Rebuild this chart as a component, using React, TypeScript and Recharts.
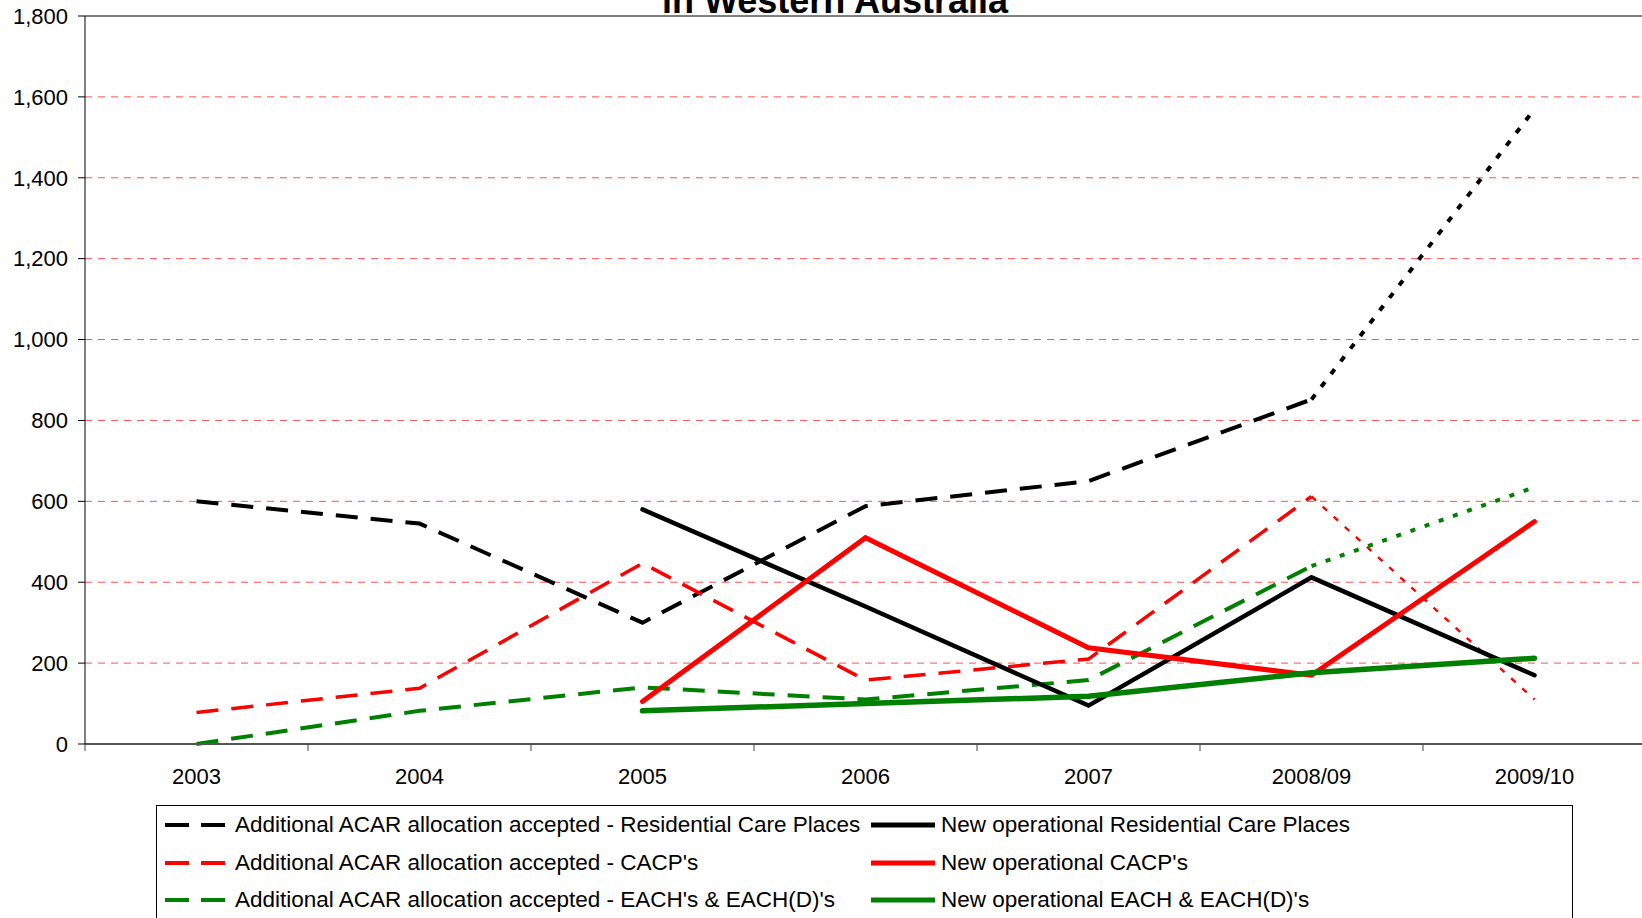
import { LineChart, Line, XAxis, YAxis, CartesianGrid, ReferenceLine } from 'recharts';

// =============================================================================
// Data
// =============================================================================

const categories = ['2003', '2004', '2005', '2006', '2007', '2008/09', '2009/10'];

const acarResidential = [600, 545, 300, 588, 650, 852, 1570];
const acarCacp = [78, 138, 447, 158, 210, 612, 110];
const acarEach = [0, 82, 140, 110, 158, 440, 635];

const newResidential = [null, null, 580, 340, 95, 412, 170];
const newCacp = [null, null, 105, 510, 238, 170, 550];
const newEach = [null, null, 82, 100, 118, 176, 212];

const yTicks = [0, 200, 400, 600, 800, 1000, 1200, 1400, 1600, 1800];

// last segment of the ACAR series is drawn dotted (projection)
const LAST = categories.length - 1;
const dashedPart = (arr: (number | null)[], i: number) => (i < LAST ? arr[i] : null);
const dottedPart = (arr: (number | null)[], i: number) => (i >= LAST - 1 ? arr[i] : null);

const data = categories.map((name, i) => ({
  x: i + 0.5,
  name,
  acarRes: dashedPart(acarResidential, i),
  acarResProj: dottedPart(acarResidential, i),
  acarCacp: dashedPart(acarCacp, i),
  acarCacpProj: dottedPart(acarCacp, i),
  acarEach: dashedPart(acarEach, i),
  acarEachProj: dottedPart(acarEach, i),
  newRes: newResidential[i],
  newCacp: newCacp[i],
  newEach: newEach[i],
}));

// =============================================================================
// Layout
// =============================================================================

const CHART_W = 1660;
const CHART_H = 918;
const MARGIN = { top: 16, right: 14, bottom: 0, left: 0 };
const Y_AXIS_W = 85;
const PLOT_W = CHART_W - MARGIN.left - MARGIN.right - Y_AXIS_W;
const HALF_BAND = PLOT_W / categories.length / 2;
const FONT = '"Liberation Sans", Arial, sans-serif';

const legendItems = [
  { label: 'Additional ACAR allocation accepted - Residential Care Places', color: '#000000', dashed: true, col: 0, row: 0 },
  { label: "Additional ACAR allocation accepted - CACP's", color: '#ff0000', dashed: true, col: 0, row: 1 },
  { label: "Additional ACAR allocation accepted - EACH's & EACH(D)'s", color: '#008000', dashed: true, col: 0, row: 2 },
  { label: 'New operational Residential Care Places', color: '#000000', dashed: false, col: 1, row: 0 },
  { label: "New operational CACP's", color: '#ff0000', dashed: false, col: 1, row: 1 },
  { label: "New operational EACH & EACH(D)'s", color: '#008000', dashed: false, col: 1, row: 2 },
];

// =============================================================================
// Custom X tick: label at band centre, tick mark at band boundary
// =============================================================================

function XTick({ x, y, payload }: { x: number; y: number; payload: { value: number } }) {
  const idx = Math.floor(payload.value);
  return (
    <g>
      <line x1={x - HALF_BAND} x2={x - HALF_BAND} y1={y} y2={y + 7} stroke="#444" strokeWidth={1} />
      <text x={x} y={y + 40} textAnchor="middle" fontSize={22} fill="#000" fontFamily={FONT}>
        {categories[idx]}
      </text>
    </g>
  );
}

// =============================================================================
// Legend
// =============================================================================

function ChartLegend() {
  return (
    <div
      style={{
        position: 'absolute',
        left: 156,
        top: 805,
        width: 1417,
        height: 140,
        border: '1px solid #000',
        background: '#fff',
        boxSizing: 'border-box',
      }}
    >
      {legendItems.map((item) => {
        const left = item.col === 0 ? 8 : 714;
        const top = 19 + item.row * 37.6;
        return (
          <div
            key={item.label}
            style={{ position: 'absolute', left, top: top - 14, height: 28, display: 'flex', alignItems: 'center' }}
          >
            <svg width={64} height={10} style={{ display: 'block' }}>
              <line
                x1={0}
                x2={item.dashed ? 60 : 64}
                y1={5}
                y2={5}
                stroke={item.color}
                strokeWidth={item.dashed ? 4 : 5}
                strokeDasharray={item.dashed ? '24 12' : undefined}
                strokeLinecap={item.dashed ? 'butt' : 'round'}
              />
            </svg>
            <span
              style={{
                marginLeft: 6,
                fontSize: 22.5,
                fontFamily: FONT,
                color: '#000',
                whiteSpace: 'nowrap',
              }}
            >
              {item.label}
            </span>
          </div>
        );
      })}
    </div>
  );
}

// =============================================================================
// Component
// =============================================================================

export default function App() {
  return (
    <div
      style={{
        position: 'fixed',
        left: 0,
        top: 0,
        width: 1642,
        height: 918,
        overflow: 'hidden',
        background: '#fff',
        fontFamily: FONT,
      }}
    >
      <LineChart width={CHART_W} height={CHART_H} data={data} margin={MARGIN}>
        <CartesianGrid vertical={false} stroke="#ff5050" strokeDasharray="7 6" strokeWidth={1} />
        <XAxis
          type="number"
          dataKey="x"
          domain={[0, categories.length]}
          ticks={data.map((d) => d.x)}
          height={174}
          tickSize={0}
          tickMargin={0}
          tickLine={false}
          axisLine={{ stroke: '#555', strokeWidth: 2 }}
          tick={(props: any) => <XTick {...props} />}
          interval={0}
        />
        <YAxis
          type="number"
          domain={[0, 1800]}
          ticks={yTicks}
          width={Y_AXIS_W}
          tickSize={7}
          tickMargin={10}
          axisLine={{ stroke: '#000', strokeWidth: 1 }}
          tickLine={{ stroke: '#000' }}
          tick={{ fontSize: 22, fill: '#000', fontFamily: FONT }}
          tickFormatter={(v: number) => v.toLocaleString('en-US')}
          interval={0}
        />
        <ReferenceLine y={1800} stroke="#808080" strokeWidth={2} ifOverflow="visible" />

        {/* Additional ACAR allocation accepted */}
        <Line dataKey="acarRes" stroke="#000000" strokeWidth={4} strokeDasharray="22 13" dot={false} isAnimationActive={false} connectNulls={false} />
        <Line dataKey="acarResProj" stroke="#000000" strokeWidth={4} strokeDasharray="6 10" dot={false} isAnimationActive={false} connectNulls={false} />
        <Line dataKey="acarCacp" stroke="#ff0000" strokeWidth={3.5} strokeDasharray="22 13" dot={false} isAnimationActive={false} connectNulls={false} />
        <Line dataKey="acarCacpProj" stroke="#ff0000" strokeWidth={2.4} strokeDasharray="6 9" dot={false} isAnimationActive={false} connectNulls={false} />
        <Line dataKey="acarEach" stroke="#008000" strokeWidth={4} strokeDasharray="22 13" dot={false} isAnimationActive={false} connectNulls={false} />
        <Line dataKey="acarEachProj" stroke="#008000" strokeWidth={4} strokeDasharray="5 10" dot={false} isAnimationActive={false} connectNulls={false} />

        {/* New operational places */}
        <Line dataKey="newRes" stroke="#000000" strokeWidth={4.5} strokeLinecap="round" dot={false} isAnimationActive={false} connectNulls={false} />
        <Line dataKey="newCacp" stroke="#ff0000" strokeWidth={5} strokeLinecap="round" dot={false} isAnimationActive={false} connectNulls={false} />
        <Line dataKey="newEach" stroke="#008000" strokeWidth={5.5} strokeLinecap="round" dot={false} isAnimationActive={false} connectNulls={false} />

        <text x={835} y={13} textAnchor="middle" fontSize={36} fontWeight="bold" fill="#000" fontFamily={FONT}>
          in Western Australia
        </text>
      </LineChart>
      <ChartLegend />
    </div>
  );
}
